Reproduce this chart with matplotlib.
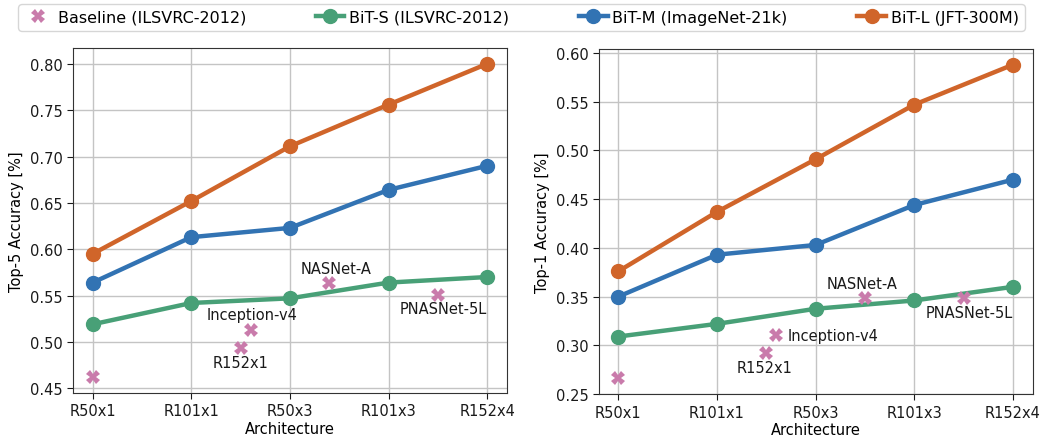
import matplotlib
matplotlib.use("Agg")
import matplotlib.pyplot as plt

# architectures on the x axis
archs = ["R50x1", "R101x1", "R50x3", "R101x3", "R152x4"]

# top-5 accuracy (left panel)
top5_bit_s = [0.519, 0.542, 0.547, 0.564, 0.570]
top5_bit_m = [0.564, 0.613, 0.623, 0.664, 0.690]
top5_bit_l = [0.595, 0.652, 0.711, 0.756, 0.800]

# top-1 accuracy (right panel)
top1_bit_s = [0.309, 0.322, 0.3375, 0.346, 0.360]
top1_bit_m = [0.350, 0.393, 0.403, 0.444, 0.470]
top1_bit_l = [0.376, 0.437, 0.491, 0.547, 0.588]

# baselines trained on ILSVRC-2012
base_names = ["", "R152x1", "Inception-v4", "NASNet-A", "PNASNet-5L"]
base_x_top5 = [0, 1.5, 1.6, 2.4, 3.5]
base_top5 = [0.462, 0.493, 0.513, 0.564, 0.551]
base_x_top1 = [0, 1.5, 1.6, 2.5, 3.5]
base_top1 = [0.266, 0.2925, 0.311, 0.349, 0.349]

# label placement for the baseline names: (dx, dy) in points, ha
offsets_top5 = [None, (0, -10, "center"), (1, 11, "center"), (5, 10, "center"), (4, -10, "center")]
offsets_top1 = [None, (-1, -11, "center"), (8, -1, "left"), (-2, 10, "center"), (4, -11, "center")]

c_base = "#c97bab"
c_s = "#48a077"
c_m = "#3273b3"
c_l = "#d0652a"

plt.rcParams["font.family"] = "DejaVu Sans"
plt.rcParams["font.size"] = 10.5

fig = plt.figure(figsize=(10.43, 4.39), dpi=100)
ax1 = fig.add_axes([0.070, 0.103, 0.416, 0.785])
ax2 = fig.add_axes([0.574, 0.100, 0.416, 0.786])


def draw_panel(ax, bx, by, s, m, l, offsets, ylabel):
    x = list(range(len(archs)))
    ax.plot(bx, by, linestyle="none", marker="X", markersize=10, color=c_base,
            markeredgewidth=0, zorder=5, label="Baseline (ILSVRC-2012)")
    ax.plot(x, s, marker="o", markersize=10, linewidth=3.2, color=c_s, label="BiT-S (ILSVRC-2012)")
    ax.plot(x, m, marker="o", markersize=10, linewidth=3.2, color=c_m, label="BiT-M (ImageNet-21k)")
    ax.plot(x, l, marker="o", markersize=10, linewidth=3.2, color=c_l, label="BiT-L (JFT-300M)")
    for name, xx, yy, off in zip(base_names, bx, by, offsets):
        if off is None:
            continue
        dx, dy, ha = off
        ax.annotate(name, (xx, yy), xytext=(dx, dy), textcoords="offset points",
                    ha=ha, va="center", color="#1a1a1a")
    ax.set_xticks(x)
    ax.set_xticklabels(archs)
    ax.set_xlabel("Architecture", labelpad=2)
    ax.set_ylabel(ylabel)
    ax.grid(True, color="#c4c4c4", linewidth=1)
    ax.set_axisbelow(True)
    for sp in ax.spines.values():
        sp.set_color("#333333")
    ax.tick_params(colors="#1a1a1a", length=4)


draw_panel(ax1, base_x_top5, base_top5, top5_bit_s, top5_bit_m, top5_bit_l,
           offsets_top5, "Top-5 Accuracy [%]")
draw_panel(ax2, base_x_top1, base_top1, top1_bit_s, top1_bit_m, top1_bit_l,
           offsets_top1, "Top-1 Accuracy [%]")
ax1.set_yticks([0.45, 0.50, 0.55, 0.60, 0.65, 0.70, 0.75, 0.80])
ax2.set_yticks([0.25, 0.30, 0.35, 0.40, 0.45, 0.50, 0.55, 0.60])

handles, labels = ax1.get_legend_handles_labels()
fig.legend(handles, labels, loc="center", ncol=4, mode="expand",
           bbox_to_anchor=(0.010, 0.922, 0.980, 0.072), fontsize=11.5,
           handlelength=1.8, handletextpad=0.3, borderpad=0.35, edgecolor="#cccccc")

fig.savefig("out.png", dpi=100)
